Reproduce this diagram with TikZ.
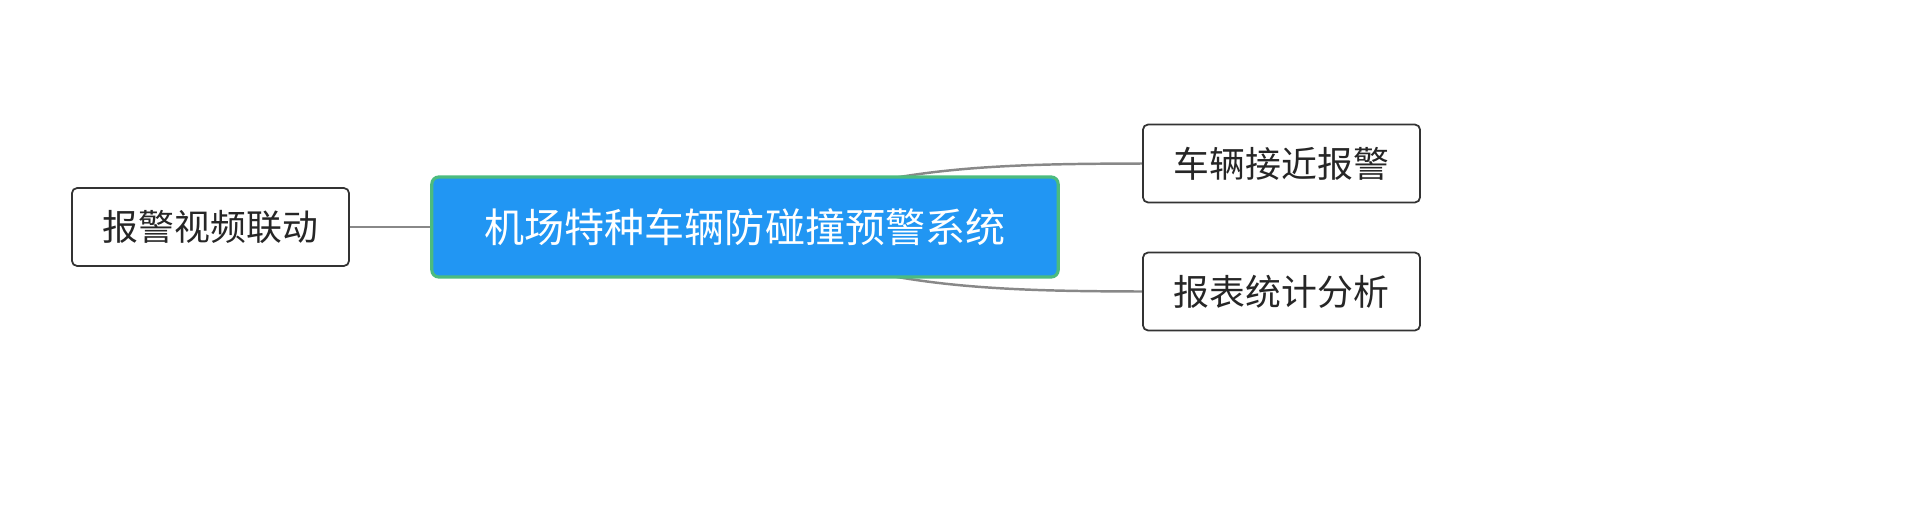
\documentclass[tikz,border=0pt]{standalone}
\usepackage{fontspec}
\setmainfont{Noto Sans CJK SC}
\usetikzlibrary{backgrounds}
\definecolor{mainblue}{RGB}{33,150,243}
\definecolor{maingreen}{RGB}{76,187,127}
\definecolor{linegray}{RGB}{136,136,136}
\definecolor{boxline}{RGB}{51,51,51}

\begin{document}
\begin{tikzpicture}[x=0.01cm, y=-0.01cm,
    rootbox/.style={draw=maingreen, line width=0.9pt, fill=mainblue, rounded corners=2pt,
        minimum width=6.26cm, minimum height=1cm, text=white, font=\fontsize{11.4pt}{12pt}\selectfont},
    topicbox/.style={draw=boxline, line width=0.5pt, fill=white, rounded corners=1.5pt,
        minimum width=2.77cm, minimum height=0.78cm, text=black!85, font=\fontsize{10.2pt}{11pt}\selectfont},
    branch/.style={draw=linegray, line width=0.7pt}]

                        \useasboundingbox (0,0) rectangle (1920,508);

                        \node[rootbox] (root) at (745,227) {机场特种车辆防碰撞预警系统};
                        \node[topicbox] (near) at (1281.5,163.5) {车辆接近报警};
                        \node[topicbox] (report) at (1281.5,291.5) {报表统计分析};
                        \node[topicbox] (video) at (210.5,227) {报警视频联动};

                        \begin{scope}[on background layer]
                        \draw[branch] (root.center) .. controls (860,165) and (1000,164) .. (near.west);
                        \draw[branch] (root.center) .. controls (860,289) and (1000,291) .. (report.west);
                        \draw[branch] (video.east) -- (root.west);
                        \end{scope}

                    \end{tikzpicture}
\end{document}
